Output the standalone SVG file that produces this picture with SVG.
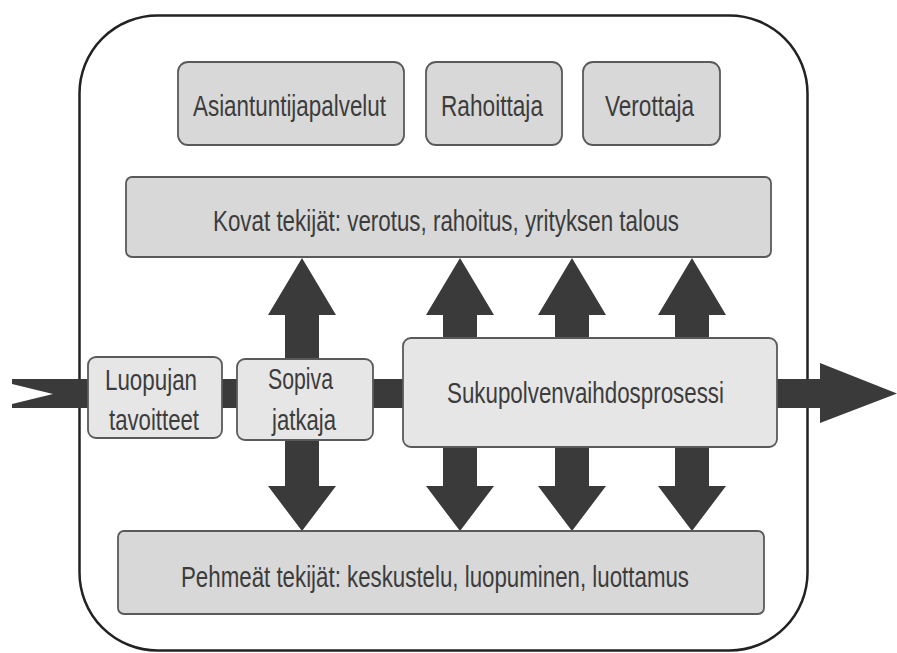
<svg xmlns="http://www.w3.org/2000/svg" width="897" height="653" viewBox="0 0 897 653">
<style>
.box{fill:#d8d8d8;stroke:#5a5a5a;stroke-width:1.8}
.mid{fill:#e6e6e6;stroke:#5a5a5a;stroke-width:1.8}
.arr{fill:#3a3a3a}
text{font-family:"Liberation Sans",Arial,sans-serif;font-size:30px;fill:#3c3c3c}
</style>
<rect width="897" height="653" fill="#ffffff"/>
<g id="frame">
<rect x="79.5" y="15.5" width="728" height="635" rx="78" ry="78" fill="#ffffff" stroke="#222222" stroke-width="2.5"/>
</g>
<g id="connectors">
<polygon class="arr" points="12,379 820,379 820,363 897,393.5 820,423 820,408 12,408 12,404 53,394 12,384"/>
<polygon class="arr" points="302,258 336,315 319,315 319,486 336,486 302,531 268,486 285,486 285,315 268,315"/>
<polygon class="arr" points="460,258 494,315 477,315 477,486 494,486 460,531 426,486 443,486 443,315 426,315"/>
<polygon class="arr" points="572,258 606,315 589,315 589,486 606,486 572,531 538,486 555,486 555,315 538,315"/>
<polygon class="arr" points="692,258 726,315 709,315 709,486 726,486 692,531 658,486 675,486 675,315 658,315"/>
</g>
<g id="asiantuntijapalvelut">
<rect class="box" x="178" y="62" width="226" height="83" rx="10"/>
<text x="193" y="116" textLength="193" lengthAdjust="spacingAndGlyphs">Asiantuntijapalvelut</text>
</g>
<g id="rahoittaja">
<rect class="box" x="426" y="62" width="136" height="83" rx="10"/>
<text x="441" y="116" textLength="102" lengthAdjust="spacingAndGlyphs">Rahoittaja</text>
</g>
<g id="verottaja">
<rect class="box" x="583" y="62" width="137" height="83" rx="10"/>
<text x="605" y="116" textLength="89" lengthAdjust="spacingAndGlyphs">Verottaja</text>
</g>
<g id="kovat">
<rect class="box" x="126" y="177" width="645" height="80" rx="6"/>
<text x="213" y="231" textLength="466" lengthAdjust="spacingAndGlyphs">Kovat tekijät: verotus, rahoitus, yrityksen talous</text>
</g>
<g id="luopujan">
<rect class="mid" x="88" y="357" width="134" height="81" rx="8"/>
<text x="105" y="390" textLength="92" lengthAdjust="spacingAndGlyphs">Luopujan</text>
<text x="109" y="430" textLength="90" lengthAdjust="spacingAndGlyphs">tavoitteet</text>
</g>
<g id="sopiva">
<rect class="mid" x="237" y="359" width="136" height="81" rx="8"/>
<text x="268" y="389" textLength="65" lengthAdjust="spacingAndGlyphs">Sopiva</text>
<text x="272" y="430" textLength="64" lengthAdjust="spacingAndGlyphs">jatkaja</text>
</g>
<g id="prosessi">
<rect class="mid" x="403" y="338" width="374" height="109" rx="8"/>
<text x="447" y="403" textLength="277" lengthAdjust="spacingAndGlyphs">Sukupolvenvaihdosprosessi</text>
</g>
<g id="pehmeat">
<rect class="box" x="118" y="531" width="646" height="83" rx="6"/>
<text x="181" y="587" textLength="508" lengthAdjust="spacingAndGlyphs">Pehmeät tekijät: keskustelu, luopuminen, luottamus</text>
</g>
</svg>
